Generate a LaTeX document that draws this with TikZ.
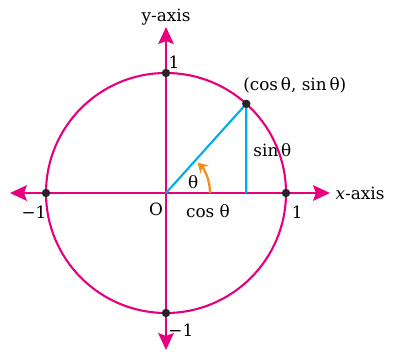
\documentclass[tikz,border=0pt]{standalone}
\usepackage{fontspec}
\setmainfont{DejaVu Serif}
\usetikzlibrary{arrows.meta}
\definecolor{axispink}{RGB}{230,0,126}
\definecolor{linecyan}{RGB}{0,172,236}
\definecolor{arcorange}{RGB}{245,140,30}
\tikzset{
  bigtip/.tip={Stealth[length=12pt,width=11pt,inset=2pt]},
  axisline/.style={axispink,line width=1.5pt,bigtip-bigtip},
  dot/.style={circle,fill=black!85,inner sep=0pt,minimum size=6pt},
  lbl/.style={font=\fontsize{12}{14}\selectfont,inner sep=1pt},
}
\begin{document}
\begin{tikzpicture}
  \useasboundingbox (-4.15,-3.95) rectangle (5.675,4.825);
  % axes
  \coordinate (O) at (0,0);
  \coordinate (xl) at (-3.9,0);
  \coordinate (xr) at (4.1,0);
  \coordinate (yt) at (0,4.15);
  \coordinate (yb) at (0,-3.925);
  \draw[axisline] (xl) -- (xr);
  \draw[axisline] (yb) -- (yt);
  % unit circle
  \draw[axispink,line width=1.5pt] (O) circle (3);
  \coordinate (P) at (48:3);
  \coordinate (Q) at (P |- O);
  \draw[linecyan,line width=1.5pt] (O) -- (P) -- (Q);
  \draw[arcorange,line width=1.6pt,-{Stealth[length=7pt,width=8pt]}] (1.1,0) arc (0:44:1.1);
  % points
  \node[dot] (A) at (3,0) {};
  \node[dot] (B) at (0,3) {};
  \node[dot] (C) at (-3,0) {};
  \node[dot] (D) at (0,-3) {};
  \node[dot] (Pd) at (P) {};
  % labels
  \node[lbl] (ylab) at (0,4.4) {y-axis};
  \node[lbl,anchor=west] (xlab) at (4.2,0) {\textit{x}-axis};
  \node[lbl] (one1) at (0.2,3.28) {1};
  \node[lbl] (one2) at (3.28,-0.48) {1};
  \node[lbl] (mone1) at (-3.3,-0.48) {−1};
  \node[lbl] (mone2) at (0.37,-3.43) {−1};
  \node[lbl] (olab) at (-0.25,-0.4) {O};
  \node[lbl] (coslab) at (1.05,-0.45) {cos θ};
  \node[lbl] (sinlab) at (2.66,1.07) {sin\,θ};
  \node[lbl] (plab) at (3.22,2.7) {(cos\,θ, sin\,θ)};
  \node[lbl] (thlab) at (0.68,0.28) {θ};
\end{tikzpicture}
\end{document}
